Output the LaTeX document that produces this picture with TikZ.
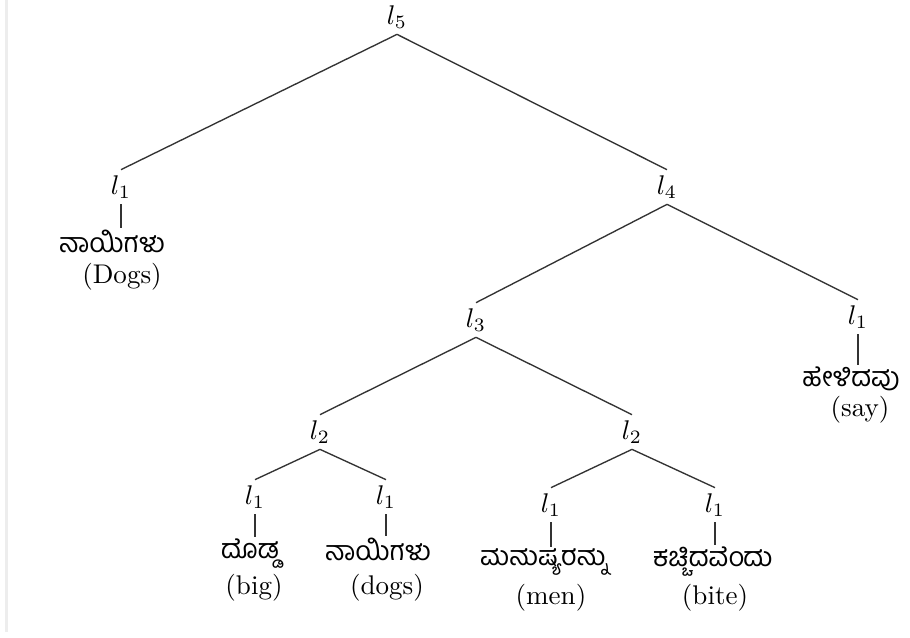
\documentclass[tikz,border=0pt]{standalone}
\usepackage{fontspec}
\newfontfamily\kanfont[Script=Kannada]{Hind Mysuru}
\begin{document}
\begin{tikzpicture}[x=0.37pt,y=-0.37pt,
    nivel/.style={inner sep=2pt},
    palabra/.style={inner sep=0.5pt,text depth=0pt,font=\kanfont},
    glosa/.style={inner sep=0pt},
    rama/.style={draw=black!80,line width=0.5pt}]
  \useasboundingbox (0,0) rectangle (910,637);
  % Borde tenue a la izquierda
  \draw[black!7,line width=1pt] (6.5,0) -- (6.5,632);

  % Niveles del arbol
  \node[nivel] (r) at (397,17) {$l_5$};
  \node[nivel] (a) at (121,187) {$l_1$};
  \node[nivel] (b) at (667,187) {$l_4$};
  \node[nivel] (c) at (476,320) {$l_3$};
  \node[nivel] (d) at (858,317) {$l_1$};
  \node[nivel] (e) at (320,432) {$l_2$};
  \node[nivel] (f) at (632,432) {$l_2$};
  \node[nivel] (g) at (255,497) {$l_1$};
  \node[nivel] (h) at (386,497) {$l_1$};
  \node[nivel] (i) at (551,505) {$l_1$};
  \node[nivel] (j) at (715,505) {$l_1$};

  % Palabras y glosas
  \node[palabra] (wa) at (112,241) {ನಾಯಿಗಳು};
  \node[glosa] (ga) at (122,277) {(Dogs)};
  \node[palabra] (wd) at (851,377) {ಹೇಳಿದವು};
  \node[glosa] (gd) at (860,410) {(say)};
  \node[palabra] (wg) at (250,549) {ದೊಡ್ಡ};
  \node[glosa] (gg) at (254,588) {(big)};
  \node[palabra] (wh) at (378,549) {ನಾಯಿಗಳು};
  \node[glosa] (gh) at (387,588) {(dogs)};
  \node[palabra] (wi) at (544,557) {ಮನುಷ್ಯರನ್ನು};
  \node[glosa] (gi) at (551,598) {(men)};
  \node[palabra] (wj) at (713,557) {ಕಚ್ಚಿದವೆಂದು};
  \node[glosa] (gj) at (715,598) {(bite)};

  % Ramas
  \draw[rama] (r.south) -- (a.north);
  \draw[rama] (r.south) -- (b.north);
  \draw[rama] (b.south) -- (c.north);
  \draw[rama] (b.south) -- (d.north);
  \draw[rama] (c.south) -- (e.north);
  \draw[rama] (c.south) -- (f.north);
  \draw[rama] (e.south) -- (g.north);
  \draw[rama] (e.south) -- (h.north);
  \draw[rama] (f.south) -- (i.north);
  \draw[rama] (f.south) -- (j.north);

  % Hojas
  \draw[rama] (a.south) -- (a.south |- wa.north);
  \draw[rama] (d.south) -- (d.south |- wd.north);
  \draw[rama] (g.south) -- (g.south |- wg.north);
  \draw[rama] (h.south) -- (h.south |- wh.north);
  \draw[rama] (i.south) -- (i.south |- wi.north);
  \draw[rama] (j.south) -- (j.south |- wj.north);
\end{tikzpicture}
\end{document}
